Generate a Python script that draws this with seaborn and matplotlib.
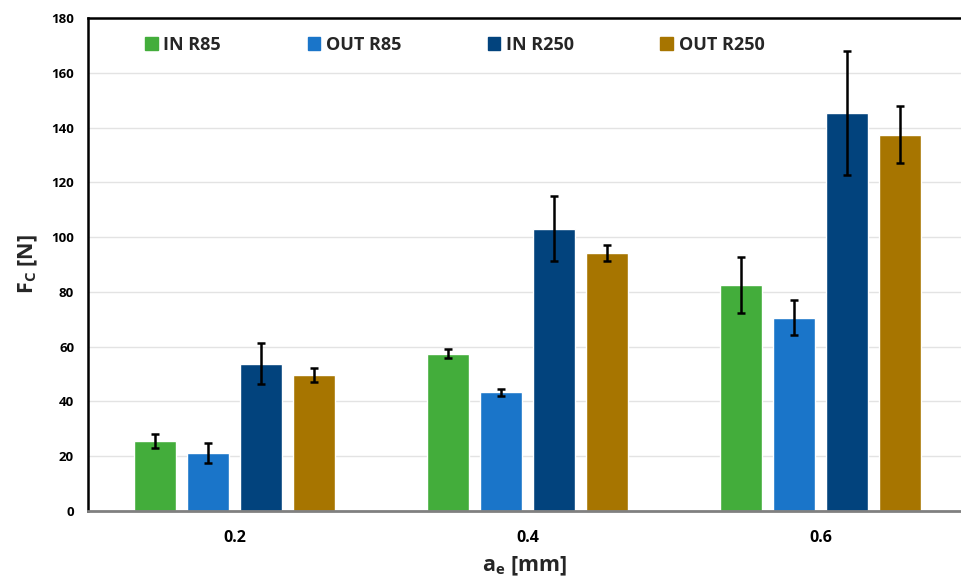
import pandas as pd
import matplotlib.pyplot as plt
import seaborn as sns

depth = ["0.2", "0.4", "0.6"]
series = ["IN R85", "OUT R85", "IN R250", "OUT R250"]
colors = ["#43AD3B", "#1A75C9", "#02437D", "#A77500"]

force = {
    "IN R85": [25.5, 57.4, 82.4],
    "OUT R85": [21.2, 43.3, 70.6],
    "IN R250": [53.7, 103.1, 145.3],
    "OUT R250": [49.7, 94.2, 137.4],
}
err = {
    "IN R85": [2.5, 1.6, 10.2],
    "OUT R85": [3.8, 1.4, 6.5],
    "IN R250": [7.5, 12.0, 22.5],
    "OUT R250": [2.5, 2.8, 10.5],
}

rows = []
for s in series:
    for d, v in zip(depth, force[s]):
        rows.append({"ae": d, "Fc": v, "series": s})
df = pd.DataFrame(rows)

sns.set_style("white")
plt.rcParams["font.family"] = ["Open Sans", "DejaVu Sans"]
plt.rcParams["font.weight"] = "bold"
plt.rcParams["axes.labelweight"] = "bold"
plt.rcParams["mathtext.fontset"] = "custom"
plt.rcParams["mathtext.rm"] = "Open Sans:bold"
plt.rcParams["mathtext.it"] = "Open Sans:bold"
plt.rcParams["mathtext.bf"] = "Open Sans:bold"

fig = plt.figure(figsize=(9.61, 5.78), dpi=100)
ax = fig.add_axes([0.0916, 0.1159, 0.9084, 0.853])

sns.barplot(data=df, x="ae", y="Fc", hue="series", hue_order=series,
            palette=colors, width=0.724, gap=0.21, errorbar=None,
            saturation=1, ax=ax)

# error bars on top of each bar
for s, cont in zip(series, ax.containers):
    xs = [b.get_x() + b.get_width() / 2 for b in cont]
    ax.errorbar(xs, force[s], yerr=err[s], fmt="none", ecolor="black",
                elinewidth=1.8, capsize=3, capthick=1.8, zorder=5)

ax.set_ylim(0, 180)
ax.set_xlim(-0.5, 2.48)
ax.set_yticks(range(0, 181, 20))
ax.yaxis.grid(True, color="#e3e3e3", linewidth=1)
ax.set_axisbelow(True)
ax.tick_params(axis="both", length=0, labelsize=9.5, colors="black")
ax.tick_params(axis="y", pad=10)
ax.tick_params(axis="x", pad=14, labelsize=11.5)

ax.spines["left"].set_color("black")
ax.spines["left"].set_linewidth(1.8)
ax.spines["top"].set_color("black")
ax.spines["top"].set_linewidth(1.8)
ax.spines["right"].set_visible(False)
ax.spines["bottom"].set_color("#808080")
ax.spines["bottom"].set_linewidth(2)

ax.set_ylabel(r"F$_\mathregular{C}$ [N]", fontsize=15.5, fontweight="bold", labelpad=8)
ax.set_xlabel(r"a$_\mathregular{e}$ [mm]", fontsize=15.5, fontweight="bold", labelpad=6)

handles = [plt.Rectangle((0, 0), 1, 1, color=c) for c in colors]
ax.legend(handles, series, ncol=4, loc="upper left", bbox_to_anchor=(0.047, 0.997),
          frameon=False, handlelength=0.7, handleheight=0.7, handletextpad=0.3,
          columnspacing=4.8, prop={"weight": "bold", "size": 13})

fig.savefig("out.png", dpi=100)
